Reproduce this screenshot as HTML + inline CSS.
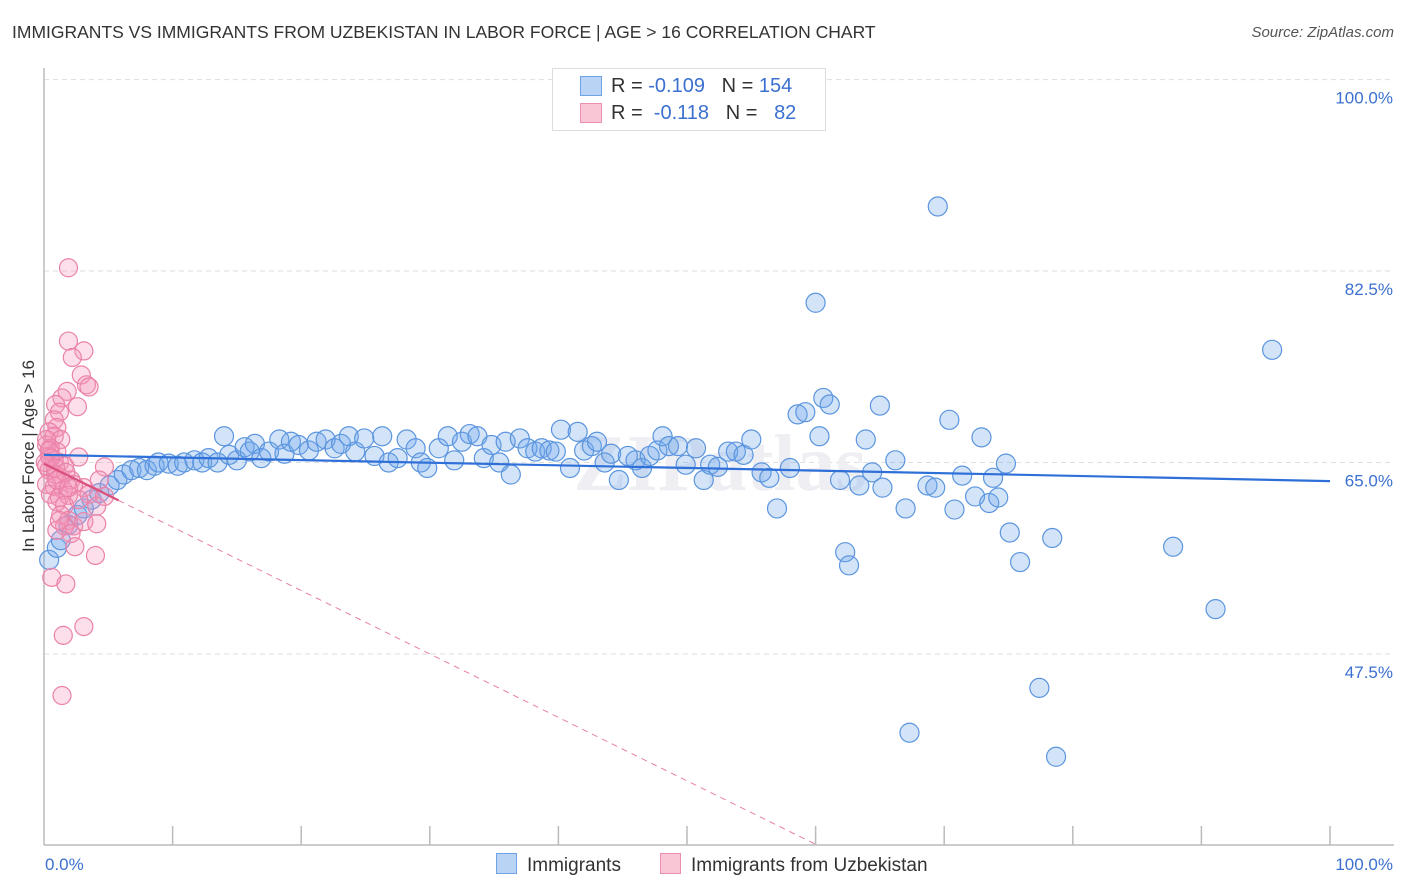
<!DOCTYPE html>
<html><head><meta charset="utf-8">
<style>
body{margin:0;background:#fff;font-family:"Liberation Sans",sans-serif;}
#wrap{position:relative;width:1406px;height:892px;overflow:hidden;}
.t{position:absolute;white-space:nowrap;}
</style></head>
<body>
<div id="wrap">
<div class="t" style="left:12px;top:22px;font-size:17.5px;color:#333;">IMMIGRANTS VS IMMIGRANTS FROM UZBEKISTAN IN LABOR FORCE | AGE &gt; 16 CORRELATION CHART</div>
<div class="t" style="right:12px;top:24px;font-size:15px;color:#555;font-style:italic;">Source: ZipAtlas.com</div>
<svg id="chart" width="1406" height="892" style="position:absolute;left:0;top:0"></svg>
</div>
<script>
const yTicks=[100,82.5,65,47.5];
const yTickLabels=["100.0%","82.5%","65.0%","47.5%"];
const xTickLabels=["0.0%","100.0%"];
const blueX=[0.4,1.0,1.3,1.9,2.6,3.1,3.7,4.3,5.1,5.7,6.2,6.8,7.4,8.0,8.6,8.9,9.7,10.4,10.9,11.7,12.3,12.8,13.5,14.0,14.4,15.0,15.6,16.0,16.4,16.9,17.5,18.3,18.7,19.2,19.8,20.6,21.2,21.9,22.6,23.1,23.7,24.2,24.9,25.7,26.3,26.8,27.5,28.2,28.9,29.3,29.8,30.7,31.4,31.9,32.5,33.1,33.7,34.2,34.8,35.4,35.9,36.3,37.0,37.6,38.2,38.7,39.3,39.8,40.2,40.9,41.5,42.0,42.6,43.0,43.6,44.1,44.7,45.4,46.0,46.5,47.1,47.7,48.1,48.6,49.3,49.9,50.7,51.3,51.8,52.4,53.2,53.8,54.4,55.0,55.8,56.4,57.0,58.0,58.6,59.2,60.0,60.3,60.6,61.1,61.9,62.3,62.6,63.4,63.9,64.4,65.0,65.2,66.2,67.0,68.7,69.3,69.5,70.4,70.8,71.4,72.4,72.9,73.5,73.8,74.2,74.8,75.1,75.9,77.4,78.4,78.7,67.3,87.8,91.1,95.5];
const blueY=[56.1,57.2,57.9,59.3,60.2,60.8,61.6,62.2,62.9,63.4,63.9,64.3,64.5,64.3,64.7,65.0,64.9,64.7,65.0,65.2,65.0,65.4,65.0,67.4,65.7,65.2,66.4,66.0,66.7,65.4,66.0,67.1,65.8,66.9,66.6,66.1,66.9,67.1,66.3,66.7,67.4,66.0,67.2,65.6,67.4,65.0,65.4,67.1,66.3,65.0,64.5,66.3,67.4,65.2,66.9,67.6,67.4,65.4,66.6,65.0,66.9,63.9,67.2,66.3,66.0,66.3,66.1,66.0,68.0,64.5,67.8,66.1,66.5,66.9,65.0,65.8,63.4,65.6,65.2,64.5,65.6,66.1,67.4,66.5,66.5,64.8,66.3,63.4,64.8,64.6,66.0,66.0,65.7,67.1,64.1,63.6,60.8,64.5,69.4,69.6,79.6,67.4,70.9,70.3,63.4,56.8,55.6,62.9,67.1,64.1,70.2,62.7,65.2,60.8,62.9,62.7,88.4,68.9,60.7,63.8,61.9,67.3,61.3,63.6,61.8,64.9,58.6,55.9,44.4,58.1,38.1,40.3,57.3,51.6,75.3];
const pinkX=[1.9,1.9,3.1,2.2,2.9,3.3,3.5,1.8,1.4,2.6,0.9,1.2,0.8,1.0,0.4,0.8,1.3,0.2,0.5,1.0,0.4,0.8,1.2,0.2,1.6,2.7,4.7,0.4,0.9,1.3,2.1,0.2,0.8,1.5,2.3,3.1,4.3,0.5,1.2,1.9,3.5,4.7,1.0,1.6,2.7,4.1,1.3,1.9,2.3,1.6,3.1,4.1,1.0,2.1,2.4,4.0,0.6,1.7,1.5,3.1,1.4,0.2,0.4,0.5,0.1,0.9,1.7,1.0,1.9,1.2];
const pinkY=[82.8,76.1,75.2,74.6,73.0,72.1,71.9,71.5,70.9,70.1,70.3,69.6,68.9,68.2,67.8,67.4,67.1,66.6,66.3,66.0,65.6,65.2,65.0,64.7,64.7,65.5,64.6,64.3,63.9,63.6,63.4,63.0,62.8,62.5,63.0,62.7,63.4,62.1,61.8,62.0,62.1,61.9,61.4,61.1,61.6,61.0,60.2,59.7,59.2,59.2,59.6,59.4,58.8,58.5,57.3,56.5,54.5,53.9,49.2,50.0,43.7,67.1,66.1,65.4,65.0,64.5,64.1,63.4,62.7,59.7];
const blueTrend=[65.7,63.3];
const pinkTrend=[64.9,-0.58];
const pinkSolidEnd=5.8;

const NS="http://www.w3.org/2000/svg";
const svg=document.getElementById('chart');
const X=v=>44+v*12.86;
const Y=v=>462.5-(v-65)*10.94;
function mk(tag,attrs,parent){const e=document.createElementNS(NS,tag);for(const k in attrs)e.setAttribute(k,attrs[k]);(parent||svg).appendChild(e);return e;}

yTicks.forEach((t,i)=>{
  const g=mk('line',{x1:44,x2:1394,y1:Y(t),y2:Y(t),stroke:'#ddd','stroke-dasharray':'5,4'});
  
  
  const l=mk('text',{x:1393,y:Y(t)+24,'text-anchor':'end','font-size':17,fill:'#3b70d0','font-family':'Liberation Sans, sans-serif'});
  l.textContent=yTickLabels[i];
  
  
});
const ax=mk('line',{x1:44,x2:44,y1:68,y2:845,stroke:'#bbb','stroke-width':1.5});


const bx=mk('line',{x1:44,x2:1394,y1:845,y2:845,stroke:'#bbb','stroke-width':1.5});


for(let i=1;i<=10;i++){
  const tk=mk('line',{x1:X(i*10),x2:X(i*10),y1:826,y2:845,stroke:'#bbb','stroke-width':1.5});
  
  
}
const xl0=mk('text',{x:45,y:870,'font-size':17,fill:'#3b70d0','font-family':'Liberation Sans, sans-serif'});
xl0.textContent=xTickLabels[0];


const xl1=mk('text',{x:1393,y:870,'text-anchor':'end','font-size':17,fill:'#3b70d0','font-family':'Liberation Sans, sans-serif'});
xl1.textContent=xTickLabels[1];


const yt=mk('text',{x:0,y:0,'font-size':17,fill:'#333','text-anchor':'middle','transform':'translate(34,456) rotate(-90)','font-family':'Liberation Sans, sans-serif'});
yt.textContent='In Labor Force | Age > 16';


const wm=mk('text',{x:720,y:490,'text-anchor':'middle','font-size':80,fill:'#eeeef3','font-weight':'bold','font-family':'Liberation Serif, serif'});
wm.textContent='ZIPatlas';



blueX.forEach((x,i)=>{
  const c=mk('circle',{cx:X(x),cy:Y(blueY[i]),r:9.5,fill:'rgba(110,165,235,0.3)',stroke:'#5b95de','stroke-width':1.2});
  
  
});
pinkX.forEach((x,i)=>{
  const c=mk('circle',{cx:X(x),cy:Y(pinkY[i]),r:9,fill:'rgba(245,150,185,0.3)',stroke:'#ea82a8','stroke-width':1.2});
  
  
});
const bt=mk('line',{x1:X(0),y1:Y(blueTrend[0]),x2:X(100),y2:Y(blueTrend[1]),stroke:'#2f6fd8','stroke-width':2.2});


const pEnd=(845-462.5)/-10.94+65; const xEnd=(pEnd-pinkTrend[0])/pinkTrend[1];
const pd=mk('line',{x1:X(pinkSolidEnd),y1:Y(pinkTrend[0]+pinkTrend[1]*pinkSolidEnd),x2:X(xEnd),y2:Y(pinkTrend[0]+pinkTrend[1]*xEnd),stroke:'#e8809f','stroke-width':1,'stroke-dasharray':'6,5'});


const ps=mk('line',{x1:X(0),y1:Y(pinkTrend[0]),x2:X(pinkSolidEnd),y2:Y(pinkTrend[0]+pinkTrend[1]*pinkSolidEnd),stroke:'#d9507c','stroke-width':2.2});


</script>
<div class="t" style="left:552px;top:68px;width:272px;height:61px;border:1px solid #ddd;background:#fff;font-size:20px;">
  <div style="position:absolute;left:27px;top:7px;width:20px;height:18px;background:#b8d3f4;border:1px solid #6fa3e6;"></div>
  <div class="t" style="left:58px;top:6px;color:#333;">R = <span style="color:#3b70d0">-0.109</span>&nbsp;&nbsp;&nbsp;N = <span style="color:#3b70d0">154</span></div>
  <div style="position:absolute;left:27px;top:34px;width:20px;height:18px;background:#f9c6d6;border:1px solid #ec8fb0;"></div>
  <div class="t" style="left:58px;top:33px;color:#333;">R = &nbsp;<span style="color:#3b70d0">-0.118</span>&nbsp;&nbsp;&nbsp;N = &nbsp;&nbsp;<span style="color:#3b70d0">82</span></div>
</div>
<div style="position:absolute;left:496px;top:853px;font-size:19px;color:#333;">
  <span style="display:inline-block;width:19px;height:19px;background:#b8d3f4;border:1px solid #6fa3e6;vertical-align:-3px;margin-right:10px;"></span>Immigrants</div>
<div style="position:absolute;left:660px;top:853px;font-size:19px;color:#333;">
  <span style="display:inline-block;width:19px;height:19px;background:#f9c6d6;border:1px solid #ec8fb0;vertical-align:-3px;margin-right:10px;"></span>Immigrants from Uzbekistan</div>
</body></html>
